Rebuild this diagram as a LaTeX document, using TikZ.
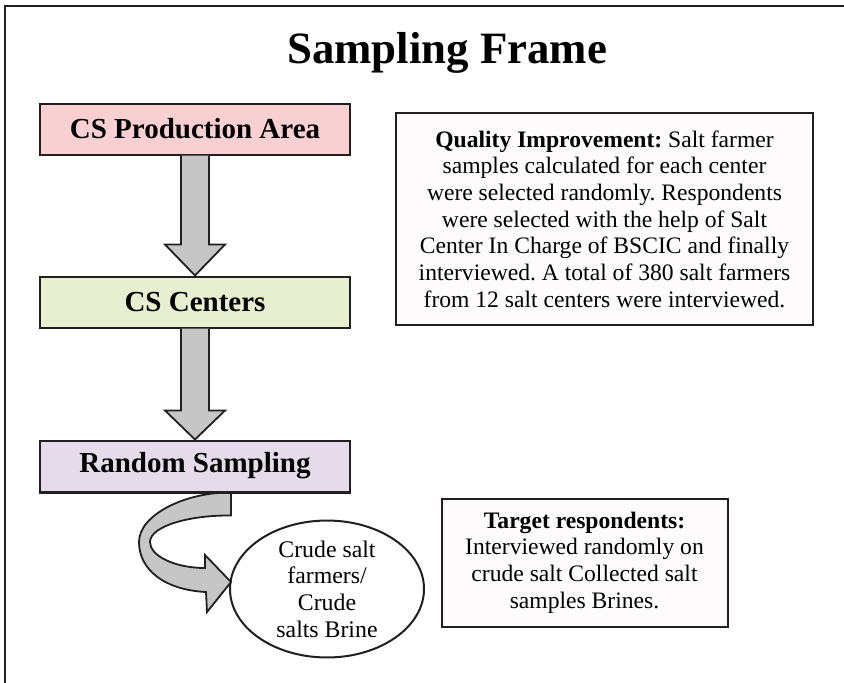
\documentclass[tikz,border=0pt]{standalone}
\usepackage{fontspec}
\setmainfont{Liberation Serif}
\usetikzlibrary{shapes.geometric,calc}
\frenchspacing

\definecolor{inkline}{HTML}{231F20}
\definecolor{areafill}{HTML}{F9D0D1}
\definecolor{centerfill}{HTML}{E7EFD0}
\definecolor{samplefill}{HTML}{E5DBEB}
\definecolor{arrowfill}{HTML}{C6C6C6}
\definecolor{notefill}{HTML}{FDFBFC}

\tikzset{
  stagebox/.style={draw=inkline, line width=2pt, minimum width=310pt,
    minimum height=51pt, inner sep=0pt,
    font=\fontsize{29}{32}\selectfont\bfseries},
  notebox/.style={draw=inkline, line width=2pt, fill=notefill, inner sep=0pt,
    align=center, font=\fontsize{23.6}{26.7}\selectfont\frenchspacing},
  blockarrow/.style={draw=inkline, line width=1.8pt, fill=arrowfill,
    line join=miter},
}

\begin{document}
\begin{tikzpicture}[x=1pt, y=-1pt]
  \useasboundingbox (0,0) rectangle (844,683);

  % outer frame (top and left edges)
  \draw[inkline, line width=2pt] (5,683) -- (5,6) -- (844,6);

  % title
  \node[font=\fontsize{44.8}{50}\selectfont\bfseries] (title) at (447,53) {Sampling Frame};

  % stages
  \node[stagebox, fill=areafill] (pa) at (195,129) {CS Production Area};
  \node[stagebox, fill=centerfill] (pc) at (195,302) {CS Centers};
  \node[stagebox, fill=samplefill] (rs) at (195,466) {Random Sampling};

  % final group
  \node[draw=inkline, line width=2pt, fill=white, ellipse, minimum width=194pt,
    minimum height=134pt, inner sep=0pt, align=center,
    font=\fontsize{23.8}{26.7}\selectfont] (ell) at (327,589)
    {Crude salt\\farmers/\\Crude\\salts Brine};

  % notes
  \node[notebox, minimum width=417pt, minimum height=212pt] (qi) at (604.5,219)
    {\textbf{Quality Improvement:} Salt farmer\\
     samples calculated for each center\\
     were selected randomly. Respondents\\
     were selected with the help of Salt\\
     Center In Charge of BSCIC and finally\\
     interviewed. A total of 380 salt farmers\\
     from 12 salt centers were interviewed.};
  \node[notebox, minimum width=286pt, minimum height=128pt] (tr) at (584.5,562.5)
    {\textbf{Target respondents:}\\
     Interviewed randomly on\\
     crude salt Collected salt\\
     samples Brines.};

  % block arrow: production area -> centers
  \draw[blockarrow]
    ($(pa.south)+(-14,0)$) -- ($(pc.north)+(-14,-31)$) -- ($(pc.north)+(-30,-31)$)
    -- (pc.north)
    -- ($(pc.north)+(30,-31)$) -- ($(pc.north)+(14,-31)$) -- ($(pa.south)+(14,0)$);

  % block arrow: centers -> random sampling
  \draw[blockarrow]
    ($(pc.south)+(-14,0)$) -- ($(rs.north)+(-14,-29)$) -- ($(rs.north)+(-30,-29)$)
    -- (rs.north)
    -- ($(rs.north)+(30,-29)$) -- ($(rs.north)+(14,-29)$) -- ($(pc.south)+(14,0)$);

  % curved block arrow: random sampling -> crude salt farmers
  \coordinate (cs) at ($(rs.south)+(36,0)$);
  \coordinate (ct) at ($(ell.west)+(2,-7)$);
  \draw[blockarrow]
    (cs) -- ++(0,23)
    .. controls (190,515) and (150,526) .. (150,542)
    .. controls (150,556) and (175,568) .. (205,568)
    -- (205,555) -- (ct) -- (207,612) -- (206,592)
    .. controls (165,590) and (139,570) .. (139,542)
    .. controls (139,515) and (185,492) .. (cs) -- cycle;
  % restore the box edge over the arrow's top
  \draw[inkline, line width=2pt] (rs.south west) -- (rs.south east);
\end{tikzpicture}
\end{document}
